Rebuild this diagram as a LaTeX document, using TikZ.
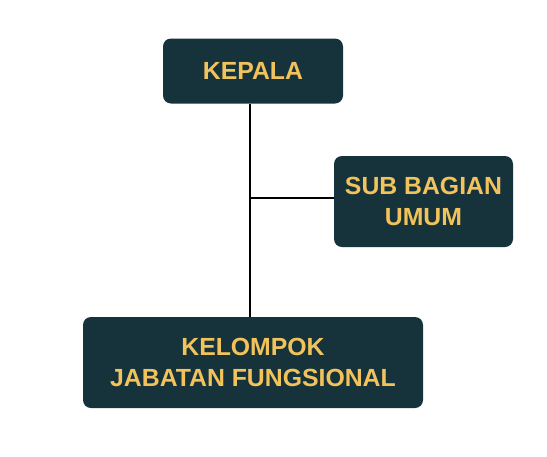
\documentclass[tikz,border=0pt]{standalone}
\usepackage{fontspec}
\setmainfont{Liberation Sans}
\definecolor{boxfill}{HTML}{16323A}
\definecolor{boxtext}{HTML}{F2C35B}
\begin{document}
\begin{tikzpicture}[x=1pt,y=-1pt,
  orgbox/.style={draw=none, fill=boxfill, rounded corners=8pt, text=boxtext,
    font=\bfseries\fontsize{24.8}{31}\selectfont, align=center, inner sep=0pt},
  link/.style={line width=2pt, black}]
\useasboundingbox (0,0) rectangle (547,456);
\node[orgbox, minimum width=180pt, minimum height=65pt] (kepala) at (253,71) {KEPALA};
\node[orgbox, minimum width=179pt, minimum height=91pt] (sub) at (423.5,201.5) {SUB BAGIAN\\UMUM};
\node[orgbox, minimum width=340pt, minimum height=91pt] (kjf) at (253,362.5) {KELOMPOK\\JABATAN FUNGSIONAL};
\coordinate (junc) at (250,198);
\draw[link] (kepala.south -| junc) -- (kjf.north -| junc);
\draw[link] (junc) -- (sub.west |- junc);
\end{tikzpicture}
\end{document}
